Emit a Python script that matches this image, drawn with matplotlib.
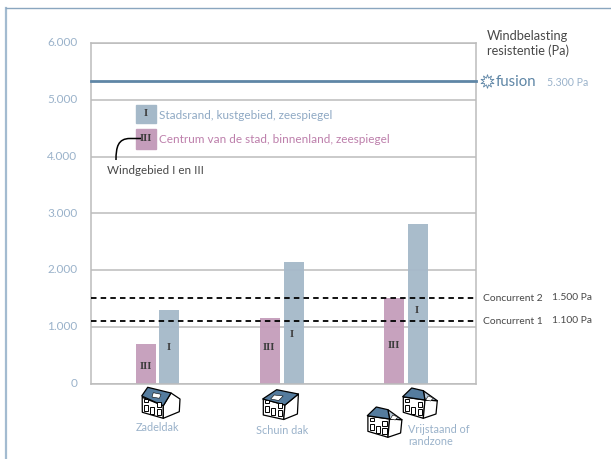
#!/usr/bin/env python3
# Windbelasting per daktype, bars for windgebied I and III
import matplotlib
matplotlib.use('Agg')
import matplotlib.pyplot as plt
from matplotlib.patches import PathPatch, Polygon, Rectangle
from matplotlib.path import Path
from matplotlib.transforms import ScaledTranslation

# Data
roof_types = ['Zadeldak', 'Schuin dak', 'Vrijstaand of\nrandzone']
zone_iii = [696, 1154, 1500]
zone_i = [1295, 2141, 2810]
y_ticks = [0, 1000, 2000, 3000, 4000, 5000, 6000]
y_labels = ['0', '1.000', '2.000', '3.000', '4.000', '5.000', '6.000']
fusion_value = 5335
concurrent_values = [1500, 1100]
concurrent_names = ['Concurrent 2', 'Concurrent 1']
concurrent_labels = ['1.500 Pa', '1.100 Pa']

# Colours
BLUE = '#a5b9c9'
MAUVE = '#c49dbb'
TICK = '#9ab2ca'
LINE = '#5f86a6'
GRID = '#bcbcbc'
DARK = '#484848'
ROOF = '#557c9e'

plt.rcParams['font.family'] = ['Lato', 'DejaVu Sans']

W, H = 611, 460
fig = plt.figure(figsize=(W / 100, H / 100), dpi=100)

# Main axes, placed to the pixel
left, right, top, bottom = 90.5, 476, 44, 384.5
ax = fig.add_axes([left / W, 1 - bottom / H, (right - left) / W, (bottom - top) / H])
ax.set_xlim(-0.539, 2.562)
ax.set_ylim(0, 6000)
ax.set_yticks(y_ticks)
ax.set_yticklabels(y_labels, color=TICK, fontsize=8.5)
ax.set_xticks([])
ax.tick_params(axis='y', length=0, pad=9.5)
# the labels sit a little above their lines
shift = ScaledTranslation(0, 1.5 / 72, fig.dpi_scale_trans)
for lab in ax.get_yticklabels():
    lab.set_transform(lab.get_transform() + shift)
for spine in ax.spines.values():
    spine.set_color(GRID)
    spine.set_linewidth(1.1)
ax.yaxis.grid(True, color=GRID, linewidth=1.1)
ax.set_axisbelow(True)

# Bars
width = 0.161
offset = 0.096
for i in range(len(roof_types)):
    ax.bar(i - offset, zone_iii[i], width, color=MAUVE, alpha=0.95, zorder=2)
    ax.bar(i + offset, zone_i[i], width, color=BLUE, alpha=0.95, zorder=2)

# Reference lines
ax.axhline(fusion_value, color=LINE, linewidth=2, zorder=3, clip_on=False)
for value in concurrent_values:
    ax.axhline(value, color='black', linewidth=1.3, dashes=(3.05, 2.3), zorder=3)

# Everything else goes on an overlay in pixel coordinates
ov = fig.add_axes([0, 0, 1, 1], facecolor='none')
ov.set_xlim(0, W)
ov.set_ylim(H, 0)
ov.axis('off')

# Outer frame
ov.plot([6, 6], [H, 8.5], color='#a3bbd0', linewidth=1.6)
ov.plot([6, W], [8.5, 8.5], color='#8aa6bf', linewidth=1)


def serif(x, y, s):
    ov.text(x, y, s, family='Liberation Serif', fontsize=7.5, fontweight='bold',
            color='#3c3c3c', ha='center', va='center', zorder=6)


# Numerals on the bars
for x, y, s in [(145.5, 366.5, 'III'), (169, 347.5, 'I'),
                (269, 347.5, 'III'), (292, 334.5, 'I'),
                (393.5, 345.5, 'III'), (416.5, 310.5, 'I')]:
    serif(x, y, s)

# Legend
ov.add_patch(Rectangle((136, 106), 20, 18, color=BLUE))
ov.add_patch(Rectangle((136, 130), 20, 20, color=MAUVE))
serif(146, 114, 'I')
serif(146, 139, 'III')
ov.text(159, 115.5, 'Stadsrand, kustgebied, zeespiegel', color='#8fa9c4', fontsize=8.45, va='center')
ov.text(159, 139.5, 'Centrum van de stad, binnenland, zeespiegel', color='#bd7fab', fontsize=8.45, va='center')
ov.text(107, 170.5, 'Windgebied I en III', color=DARK, fontsize=8.35, va='center')
connector = Path([(116, 161), (116, 148), (118, 139.5), (130, 139.5), (141, 139.5)],
                 [Path.MOVETO, Path.CURVE4, Path.CURVE4, Path.CURVE4, Path.LINETO])
ov.add_patch(PathPatch(connector, fill=False, edgecolor='black', linewidth=1.1))

# Right hand labels
ov.text(487, 36.5, 'Windbelasting', color=DARK, fontsize=9.3, va='center')
ov.text(487, 50.5, 'resistentie (Pa)', color=DARK, fontsize=9.1, va='center')
ov.plot([487], [81.5], marker=(10, 1, 0), markersize=10, markerfacecolor='none',
        markeredgecolor=LINE, markeredgewidth=0.6, linestyle='none')
ov.text(496, 82, 'fusion', color=LINE, fontsize=10.8, va='center')
ov.text(547, 82.5, '5.300 Pa', color=TICK, fontsize=7.6, va='center')
for y, name, lab in zip([298.5, 321.5], concurrent_names, concurrent_labels):
    ov.text(483, y, name, color=DARK, fontsize=7.4, va='center')
    ov.text(552, y - 0.5, lab, color=DARK, fontsize=7.4, va='center')

# Category labels
ov.text(157.5, 427.5, roof_types[0], color=TICK, fontsize=7.8, ha='center', va='center')
ov.text(281.7, 431, roof_types[1], color=TICK, fontsize=7.8, ha='center', va='center')
ov.text(408.5, 435.5, roof_types[2], color=TICK, fontsize=7.8, ha='left', va='center', linespacing=1.05)

# Icon outlines, relative to the top left corner of each house
HOUSES = {
    'zadel': dict(
        front=[(0.5, 9.3), (0.6, 24.3), (21.6, 30.3), (21.6, 17.7)],
        side=[(21.6, 17.7), (29.3, 5), (38.3, 11), (37.6, 23.7), (21.6, 30.3)],
        roof=[(0, 8), (6, -0.7), (29.3, 5), (21.6, 17.7)],
        window=[(11.6, 4.7), (19.3, 6.3), (17.7, 10.3), (10.3, 9)]),
    'schuin': dict(
        front=[(0.6, 10), (0.6, 26), (21, 30.5), (22.3, 16)],
        side=[(22.3, 16), (35.7, 5), (34.7, 25), (21, 30.5)],
        roof=[(0, 10), (14, 0.7), (35.7, 5), (22.3, 16)],
        window=[(11.5, 6), (20.5, 7), (16, 11.5), (8, 10)]),
    'hip': dict(
        front=[(0.6, 9), (0.6, 24.3), (20.6, 30.3), (22.3, 12)],
        side=[(22.3, 12), (34.6, 12.7), (33.3, 26), (20.6, 30.3)],
        roof=[(0, 8.7), (9, 0), (20.6, 2.7), (22.3, 12)],
        window=[(25.5, 8), (30.5, 10), (28, 13), (23, 12)]),
}


def house(x0, y0, kind='zadel'):
    """Small house icon, x0/y0 is the top left corner in pixels."""
    shape = HOUSES[kind]

    def pts(p):
        return [(x0 + a, y0 + b) for a, b in p]
    ink = dict(edgecolor='black', linewidth=0.9, joinstyle='round')
    ov.add_patch(Polygon(pts(shape['front']), facecolor='white', **ink))
    ov.add_patch(Polygon(pts(shape['side']), facecolor='white', **ink))
    if kind == 'hip':
        ov.add_patch(Polygon(pts([(20.6, 2.7), (34.6, 12.7), (22.3, 12)]), facecolor='#b9c9d8', **ink))
    ov.add_patch(Polygon(pts(shape['roof']), facecolor=ROOF, **ink))
    ov.add_patch(Polygon(pts(shape['window']), facecolor='white', edgecolor='black', linewidth=0.4))
    for wx, wy, ww, wh in [(2.7, 10.5, 4, 3.5), (2.7, 17, 4, 6), (8.3, 18.7, 4.4, 7.3),
                           (15, 14, 4.3, 4.7), (15, 21, 4.3, 5.7)]:
        ov.add_patch(Rectangle((x0 + wx, y0 + wy), ww, wh, facecolor='white',
                               edgecolor='black', linewidth=0.7))


house(141.7, 389)
house(262.7, 390, 'schuin')
house(402.7, 389, 'hip')
house(367.3, 408, 'hip')

fig.savefig('out.png', dpi=100)
